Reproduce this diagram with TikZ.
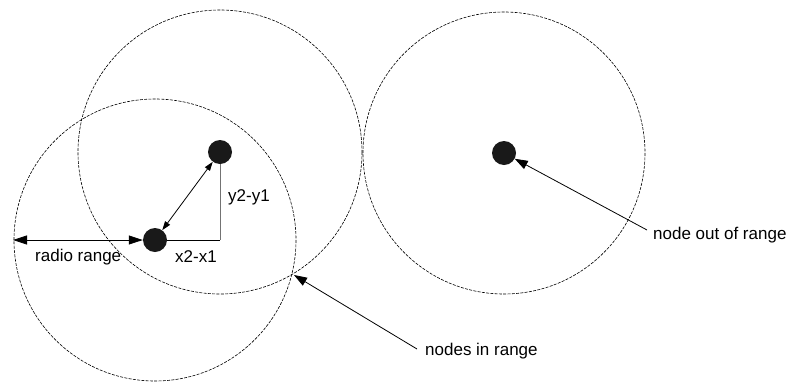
\documentclass[tikz,border=0pt]{standalone}
\usepackage{fontspec}
\setmainfont{Liberation Sans}
\usetikzlibrary{arrows.meta}
\begin{document}
\begin{tikzpicture}[x=1pt,y=-1pt,
  rangecircle/.style={draw, line width=0.6pt, dash pattern=on 3pt off 1.3pt},
  dot/.style={circle, fill=black!90, inner sep=0pt, minimum size=24pt},
  arr/.style={line width=0.8pt, -{Triangle[length=13pt,width=9pt]}},
  darr/.style={line width=0.8pt, {Triangle[length=14pt,width=9pt]}-{Triangle[length=14pt,width=9pt]}},
  sarr/.style={line width=0.8pt, {Triangle[length=9pt,width=6pt]}-{Triangle[length=9pt,width=6pt]}},
  lbl/.style={font=\fontsize{17}{19}\selectfont, inner sep=0pt}]
\useasboundingbox (0,0) rectangle (787,381);
% range circles
\draw[rangecircle] (155,240) circle (141);
\draw[rangecircle] (220,152) circle (142);
\draw[rangecircle] (504,153) circle (141);
% nodes
\node[dot] (n1) at (155,240) {};
\node[dot] (n2) at (220,152) {};
\node[dot] (n3) at (504,153) {};
\coordinate (corner) at (220,240);
\coordinate (edge) at (13,240);
\coordinate (cross) at (294,275);
% distances
\draw[sarr] (n1) -- (n2);
\draw[line width=0.8pt] (n1.east) -- (corner);
\draw[line width=0.8pt, black!55] (corner) -- (n2.south);
\draw[darr] (edge) -- (n1.west);
% labels
\node[lbl, anchor=west] (rr) at (35,257) {radio range};
\node[lbl, anchor=west] (xx) at (175,257) {x2-x1};
\node[lbl, anchor=west] (yy) at (228,197) {y2-y1};
\node[lbl, anchor=west] (nir) at (425,351) {nodes in range};
\node[lbl, anchor=west] (nor) at (653,235) {node out of range};
\draw[arr] (nir.west) ++(-8,-2) coordinate (s1) -- (cross);
\draw[arr] (nor.west) ++(-6,-5) coordinate (s2) -- (n3);
\end{tikzpicture}
\end{document}
